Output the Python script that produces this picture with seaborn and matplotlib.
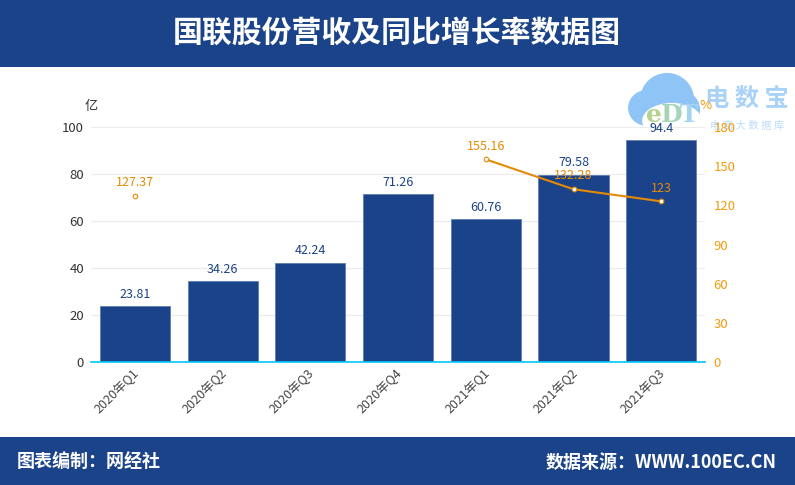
import pandas as pd
import numpy as np
import matplotlib
matplotlib.use('Agg')
import matplotlib.pyplot as plt
import seaborn as sns
from matplotlib.patches import Rectangle, Ellipse
from matplotlib.transforms import ScaledTranslation

quarters = ['2020年Q1', '2020年Q2', '2020年Q3', '2020年Q4', '2021年Q1', '2021年Q2', '2021年Q3']
revenue = [23.81, 34.26, 42.24, 71.26, 60.76, 79.58, 94.4]
growth = [127.37, np.nan, np.nan, np.nan, 155.16, 132.28, 123]
revenue_ticks = [0, 20, 40, 60, 80, 100]
growth_ticks = [0, 30, 60, 90, 120, 150, 180]
title = '国联股份营收及同比增长率数据图'
footer_left = '图表编制：网经社'
footer_right = '数据来源：WWW.100EC.CN'

NAVY = '#1b4389'
ORANGE = '#e58a06'
W, H = 795, 485

sns.set_theme(style='white')
plt.rcParams['font.family'] = ['Noto Sans CJK SC', 'DejaVu Sans']

df = pd.DataFrame({'quarter': quarters, 'revenue': revenue, 'growth': growth})
last_run = df.iloc[4:]

# the extra 0.1 px stops 4.85 * 100 rounding down to 484
fig = plt.figure(figsize=((W + 0.1) / 100, (H + 0.1) / 100), dpi=100)

# pixel-coord layer behind the chart: banners and watermark
bg = fig.add_axes([0, 0, 1, 1], zorder=0)
bg.set_xlim(0, W)
bg.set_ylim(H, 0)
bg.axis('off')
bg.add_patch(Rectangle((0, 0), W, 67, color=NAVY, lw=0))
bg.add_patch(Rectangle((0, 437), W, 48, color=NAVY, lw=0))
bg.text(397, 33, title, color='white', fontsize=21.5, fontweight='bold', ha='center', va='center')
bg.text(17, 462, footer_left, color='white', fontsize=13, fontweight='bold', va='center')
bg.text(777, 462, footer_right, color='white', fontsize=13, fontweight='bold', ha='right', va='center')
bg.text(91, 106, '亿', color='#333333', fontsize=9.5, ha='center', va='center')

# watermark
cloud = '#8fc4f7'
for cx, cy, w, h in [(667, 100, 54, 54), (647, 108, 38, 36), (684, 110, 32, 36)]:
    bg.add_patch(Ellipse((cx, cy), w, h, color=cloud, lw=0))
bg.add_patch(Ellipse((672, 121), 60, 36, color='white', lw=0))
for x, letter, col in [(654, 'e', '#b5d28f'), (672, 'D', '#a5d4b8'), (689, 'T', '#a3d3ee')]:
    bg.text(x, 115, letter, color=col, fontsize=18, fontweight='bold', ha='center', va='center',
            family='DejaVu Serif')
bg.text(747, 99, '电 数 宝', color='#a9d2f8', fontsize=17.5, fontweight='bold', ha='center', va='center')
bg.text(747, 126, '电 商 大 数 据 库', color='#bcdcfa', fontsize=7.5, ha='center', va='center')

ax = fig.add_axes([91 / W, 1 - 362 / H, 614 / W, 235 / H], zorder=1)
ax.patch.set_visible(False)

# bars, left scale
sns.barplot(data=df, x='quarter', y='revenue', ax=ax, color=NAVY, saturation=1,
            width=0.8, edgecolor='#5f7fb0', linewidth=0.6, zorder=2)
ax.set_ylim(0, 100)
ax.set_yticks(revenue_ticks)
ax.set_xlabel('')
ax.set_ylabel('')
ax.yaxis.grid(True, color='#ececec', linewidth=0.8)
ax.set_axisbelow(True)
ax.tick_params(axis='y', length=0, labelsize=9.5, labelcolor='#333333', pad=5)
ax.tick_params(axis='x', length=0, labelsize=9, labelcolor='#444444', pad=3)
shift = ScaledTranslation(-2 / 72, 0, fig.dpi_scale_trans)
for label in ax.get_xticklabels():
    label.set(rotation=45, ha='right', rotation_mode='anchor')
    label.set_transform(label.get_transform() + shift)
for side in ['top', 'left', 'right']:
    ax.spines[side].set_visible(False)
ax.spines['bottom'].set_color('#00c8f8')
ax.spines['bottom'].set_linewidth(1.2)
ax.spines['bottom'].set_zorder(5)
for i, v in enumerate(revenue):
    ax.annotate(f'{v:g}', (i, v), xytext=(0, 4), textcoords='offset points',
                ha='center', va='bottom', fontsize=9, color=NAVY)

# growth rate, right scale
ax2 = ax.twinx()
ax2.patch.set_visible(False)
sns.lineplot(data=last_run, x='quarter', y='growth', ax=ax2, color=ORANGE,
             linewidth=1.5, sort=False, zorder=3)
sns.scatterplot(data=df, x='quarter', y='growth', ax=ax2, s=11, color='white',
                edgecolor=ORANGE, linewidth=0.8, zorder=4)
ax2.set_ylim(0, 180)
ax2.set_yticks(growth_ticks)
ax2.set_xlabel('')
ax2.set_ylabel('')
ax2.tick_params(axis='y', length=0, labelsize=9.5, labelcolor='#f59a0c', pad=6)
for side in ['top', 'left', 'right', 'bottom']:
    ax2.spines[side].set_visible(False)
for i, v in enumerate(growth):
    if not np.isnan(v):
        ax2.annotate(f'{v:g}', (i, v), xytext=(0, 5), textcoords='offset points',
                     ha='center', va='bottom', fontsize=9, color=ORANGE)
ax2.text(1.0, 1.09, '%', transform=ax2.transAxes, color='#f59a0c', fontsize=9.5, ha='center', va='center')
ax.set_xlim(-0.5, 6.5)

fig.savefig('out.png', dpi=100)
